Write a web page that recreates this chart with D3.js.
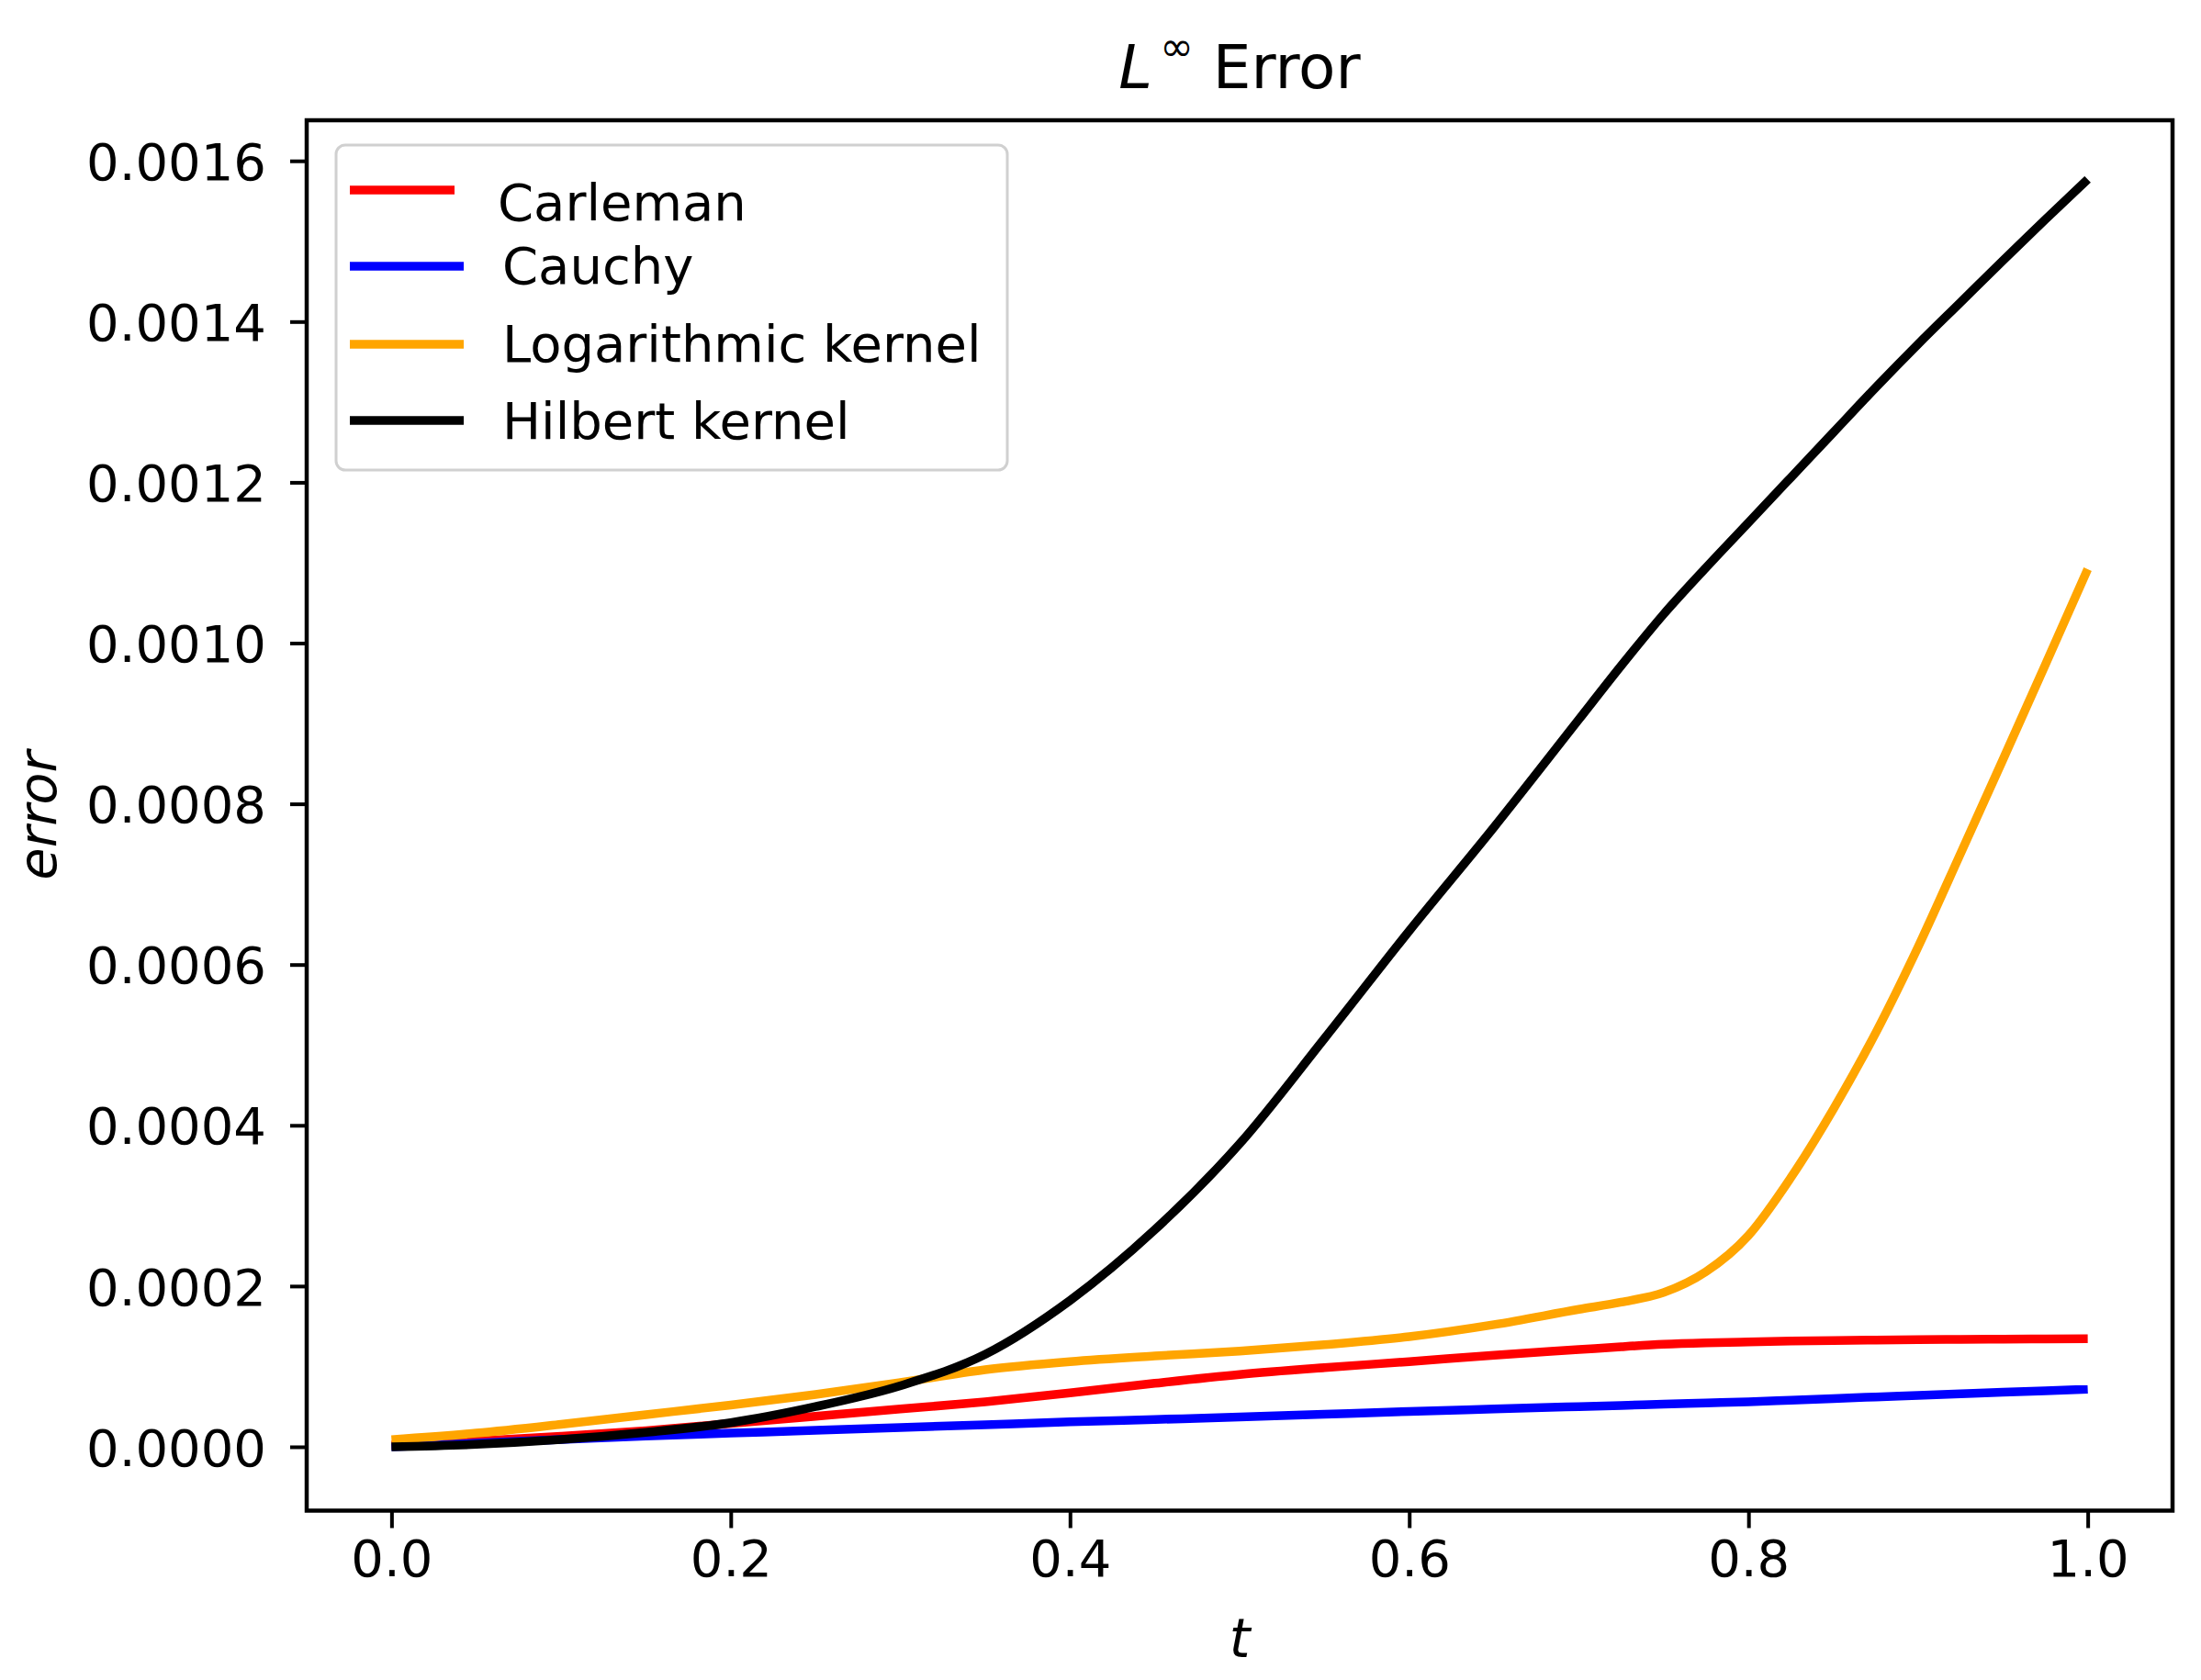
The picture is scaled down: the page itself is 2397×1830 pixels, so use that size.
<!DOCTYPE html>
<html>
<head>
<meta charset="utf-8">
<script src="https://cdn.jsdelivr.net/npm/d3@7"></script>
<style>
  html, body { margin: 0; padding: 0; background: #ffffff; }
  svg { display: block; }
  text { font-family: "DejaVu Sans", sans-serif; fill: #000; }
</style>
</head>
<body>
<svg id="chart" width="2397" height="1830"></svg>
<script>
// ---- data ----
const tValues = [0, 0.05, 0.1, 0.15, 0.2, 0.25, 0.3, 0.35, 0.4, 0.45, 0.5, 0.55, 0.6, 0.65, 0.7, 0.725, 0.75, 0.775, 0.8, 0.825, 0.85, 0.875, 0.9, 0.925, 0.95, 0.975, 1.0];

const carleman = [0.0000020, 0.0000070, 0.0000130, 0.0000200, 0.0000290, 0.0000380, 0.0000470, 0.0000560, 0.0000670, 0.0000790, 0.0000900, 0.0000985, 0.0001060, 0.0001140, 0.0001210, 0.0001245, 0.0001275, 0.0001293, 0.0001305, 0.0001315, 0.0001323, 0.0001329, 0.0001334, 0.0001337, 0.0001340, 0.0001342, 0.0001344];

const cauchy = [0.0000000, 0.0000045, 0.0000090, 0.0000135, 0.0000170, 0.0000205, 0.0000240, 0.0000275, 0.0000310, 0.0000340, 0.0000370, 0.0000405, 0.0000440, 0.0000470, 0.0000500, 0.0000515, 0.0000530, 0.0000545, 0.0000560, 0.0000580, 0.0000600, 0.0000620, 0.0000640, 0.0000660, 0.0000680, 0.0000698, 0.0000716];

const logarithmic = [0.0000088, 0.0000170, 0.0000280, 0.0000400, 0.0000520, 0.0000650, 0.0000800, 0.0000960, 0.0001060, 0.0001130, 0.0001190, 0.0001270, 0.0001370, 0.0001520, 0.0001710, 0.0001800, 0.0001920, 0.0002180, 0.0002630, 0.0003350, 0.0004200, 0.0005150, 0.0006220, 0.0007380, 0.0008550, 0.0009730, 0.0010920];

const hilbert = [0.0000000, 0.0000030, 0.0000090, 0.0000180, 0.0000300, 0.0000500, 0.0000760, 0.0001150, 0.0001820, 0.0002700, 0.0003770, 0.0005080, 0.0006420, 0.0007710, 0.0009050, 0.0009720, 0.0010360, 0.0010940, 0.0011500, 0.0012060, 0.0012620, 0.0013180, 0.0013720, 0.0014240, 0.0014760, 0.0015270, 0.0015770];

const seriesNames = ["Carleman", "Cauchy", "Logarithmic kernel", "Hilbert kernel"];
const seriesColors = ["#ff0000", "#0000ff", "#ffa500", "#000000"];
const seriesValues = [carleman, cauchy, logarithmic, hilbert];

const xTicks = [0.0, 0.2, 0.4, 0.6, 0.8, 1.0];
const yTicks = [0.0000, 0.0002, 0.0004, 0.0006, 0.0008, 0.0010, 0.0012, 0.0014, 0.0016];

const titleMain = "L";
const titleSup = "\u221E";
const titleRest = " Error";
const xLabel = "t";
const yLabel = "error";

// ---- layout ----
const frame = { left: 334, right: 2366, top: 131, bottom: 1645.5 };
const svg = d3.select("#chart");

svg.append("rect").attr("x", 0).attr("y", 0).attr("width", 2397).attr("height", 1830).attr("fill", "#fff");

const x = d3.scaleLinear().domain([-0.05, 1.05]).range([frame.left, frame.right]);
const y = d3.scaleLinear().domain([-0.0000794, 0.0016505]).range([frame.bottom, frame.top]);

const fontSize = 56;

// axes
const xAxis = d3.axisBottom(x).tickValues(xTicks).tickFormat(d3.format(".1f")).tickSize(19).tickPadding(12);
const yAxis = d3.axisLeft(y).tickValues(yTicks).tickFormat(d3.format(".4f")).tickSize(18).tickPadding(26);

const gx = svg.append("g").attr("transform", `translate(0,${frame.bottom})`).call(xAxis);
const gy = svg.append("g").attr("transform", `translate(${frame.left},0)`).call(yAxis);
[gx, gy].forEach(g => {
  g.select(".domain").remove();
  g.selectAll(".tick line").attr("stroke", "#000").attr("stroke-width", 4);
  g.selectAll(".tick text").attr("font-size", fontSize).attr("font-family", "DejaVu Sans").attr("fill", "#000");
});
gy.selectAll(".tick text").attr("dy", "0.36em");
gx.selectAll(".tick text").attr("dy", "0.73em");

// clip
svg.append("clipPath").attr("id", "plotclip").append("rect")
  .attr("x", frame.left).attr("y", frame.top)
  .attr("width", frame.right - frame.left).attr("height", frame.bottom - frame.top);

// lines
const line = d3.line()
  .x((d, i) => x(tValues[i]))
  .y(d => y(d))
  .curve(d3.curveMonotoneX);

const plotG = svg.append("g").attr("clip-path", "url(#plotclip)");
seriesValues.forEach((vals, k) => {
  plotG.append("path")
    .datum(vals)
    .attr("d", line)
    .attr("fill", "none")
    .attr("stroke", seriesColors[k])
    .attr("stroke-width", 9.5)
    .attr("stroke-linejoin", "round")
    .attr("stroke-linecap", "butt");
});

// frame
svg.append("rect")
  .attr("x", frame.left).attr("y", frame.top)
  .attr("width", frame.right - frame.left).attr("height", frame.bottom - frame.top)
  .attr("fill", "none").attr("stroke", "#000").attr("stroke-width", 4.5);

// title
const title = svg.append("text")
  .attr("x", (frame.left + frame.right) / 2)
  .attr("y", 96)
  .attr("text-anchor", "middle")
  .attr("font-size", 66);
title.append("tspan").attr("font-style", "italic").text(titleMain);
title.append("tspan").attr("font-size", 44).attr("dy", -30).attr("dx", 8).text(titleSup);
title.append("tspan").attr("dy", 30).text(titleRest);

// axis labels
svg.append("text")
  .attr("x", (frame.left + frame.right) / 2)
  .attr("y", 1805)
  .attr("text-anchor", "middle")
  .attr("font-size", 58)
  .attr("font-style", "italic")
  .text(xLabel);

svg.append("text")
  .attr("transform", `translate(61,${(frame.top + frame.bottom) / 2}) rotate(-90)`)
  .attr("text-anchor", "middle")
  .attr("font-size", 57)
  .attr("font-style", "italic")
  .text(yLabel);

// legend
const legend = svg.append("g");
legend.append("rect")
  .attr("x", 366).attr("y", 158)
  .attr("width", 731).attr("height", 354)
  .attr("rx", 10).attr("ry", 10)
  .attr("fill", "#ffffff").attr("fill-opacity", 0.85)
  .attr("stroke", "#d0d0d0").attr("stroke-width", 3);

const legendRowY = [207, 290, 375, 458];
const legendTextY = [240, 309, 394, 478];
const legendTextX = [542, 547, 547, 547];
const legendHandleEnd = [495, 505, 505, 505];
seriesNames.forEach((name, k) => {
  legend.append("line")
    .attr("x1", 381).attr("x2", legendHandleEnd[k])
    .attr("y1", legendRowY[k]).attr("y2", legendRowY[k])
    .attr("stroke", seriesColors[k]).attr("stroke-width", 9.5);
  legend.append("text")
    .attr("x", legendTextX[k]).attr("y", legendTextY[k])
    .attr("font-size", fontSize)
    .text(name);
});
</script>
</body>
</html>
